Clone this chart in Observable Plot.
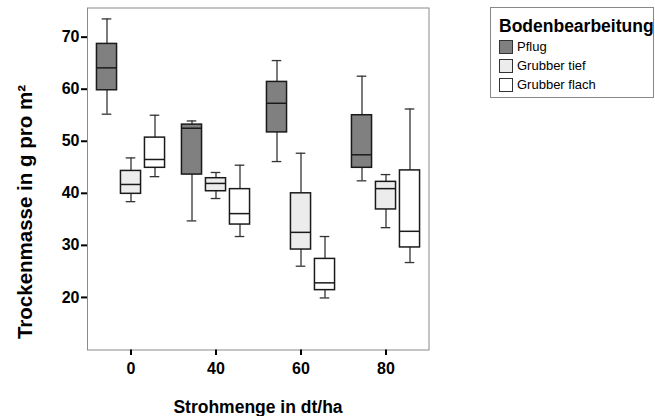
<!DOCTYPE html>
<html>
<head>
<meta charset="utf-8">
<script src="https://cdn.jsdelivr.net/npm/d3@7"></script>
<script src="https://cdn.jsdelivr.net/npm/@observablehq/plot@0.6"></script>
<style>
  html, body { margin: 0; padding: 0; background: #fff; }
  #wrap { position: relative; width: 655px; height: 416px; font-family: "Liberation Sans", Arial, sans-serif; color: #000; }
  #wrap svg { position: absolute; left: 0; top: 0; }
  #ylabel { position: absolute; left: 25px; top: 212px; transform: translate(-50%, -50%) rotate(-90deg); white-space: nowrap; font-weight: bold; font-size: 20.5px; }
  #xlabel { position: absolute; left: 258px; top: 407px; transform: translate(-50%, -50%); white-space: nowrap; font-weight: bold; font-size: 17.5px; }
  #legend { position: absolute; left: 490px; top: 7px; width: 164px; height: 91px; border: 1px solid #888; box-sizing: border-box; }
  #legend .title { position: absolute; left: 8px; top: 10px; font-weight: bold; font-size: 17.5px; line-height: 16px; white-space: nowrap; }
  #legend .item { position: absolute; left: 8px; height: 14px; font-size: 13px; line-height: 14px; white-space: nowrap; }
  #legend .sw { display: inline-block; width: 12px; height: 12px; border: 1px solid #333; vertical-align: top; margin-right: 4px; }
</style>
</head>
<body>
<div id="wrap">
  <div id="ylabel"></div>
  <div id="xlabel"></div>
  <div id="legend"></div>
</div>
<script>
// ---- data ----
const groups = ["0", "40", "60", "80"];            // Strohmenge in dt/ha
const series = ["Pflug", "Grubber tief", "Grubber flach"];
const seriesColors = ["#808080", "#ececec", "#ffffff"];
const yTicks = [20, 30, 40, 50, 60, 70];
// values ordered: group 0 (Pflug, tief, flach), group 40 (...), group 60 (...), group 80 (...)
const whiskerLow  = [55.2, 38.4, 43.2,  34.7, 39.0, 31.7,  46.1, 26.0, 19.9,  42.4, 33.4, 26.7];
const quartile1   = [59.8, 39.9, 44.9,  43.6, 40.4, 34.0,  51.7, 29.2, 21.4,  44.9, 36.9, 29.6];
const median      = [64.1, 41.7, 46.5,  52.5, 41.9, 36.1,  57.3, 32.5, 22.8,  47.4, 40.9, 32.7];
const quartile3   = [68.7, 44.3, 50.7,  53.2, 42.9, 40.8,  61.4, 40.0, 27.4,  55.0, 42.2, 44.4];
const whiskerHigh = [73.5, 46.8, 55.0,  53.9, 44.0, 45.4,  65.5, 47.7, 31.7,  62.5, 43.6, 56.2];
const xTitle = "Strohmenge in dt/ha";
const yTitle = "Trockenmasse in g pro m²";
const legendTitle = "Bodenbearbeitung";

// ---- build table ----
const rows = [];
groups.forEach((g, gi) => series.forEach((s, si) => {
  const i = gi * series.length + si;
  rows.push({g, s, lo: whiskerLow[i], q1: quartile1[i], med: median[i], q3: quartile3[i], hi: whiskerHigh[i]});
}));

const bandInset = 32.45;   // box width inside each band
const capInset = 37.7;     // whisker cap width
const offsets = [-24, 0, 24];

const marks = [];
series.forEach((s, si) => {
  const data = rows.filter(d => d.s === s);
  const dx = offsets[si];
  marks.push(
    Plot.ruleX(data, {x: "g", y1: "lo", y2: "hi", dx, stroke: "#333", strokeWidth: 1.3}),
    Plot.barY(data, {x: "g", y1: "q1", y2: "q3", dx, fill: seriesColors[si], stroke: "#1a1a1a", strokeWidth: 1.5, insetLeft: bandInset, insetRight: bandInset}),
    Plot.tickY(data, {x: "g", y: "med", dx, stroke: "#1a1a1a", strokeWidth: 1.5, insetLeft: bandInset, insetRight: bandInset}),
    Plot.tickY(data, {x: "g", y: "lo", dx, stroke: "#333", strokeWidth: 1.3, insetLeft: capInset, insetRight: capInset}),
    Plot.tickY(data, {x: "g", y: "hi", dx, stroke: "#333", strokeWidth: 1.3, insetLeft: capInset, insetRight: capInset})
  );
});

const chart = Plot.plot({
  width: 655,
  height: 416,
  marginLeft: 87,
  marginTop: 7.5,
  marginRight: 226.5,
  marginBottom: 66.5,
  style: {fontFamily: "'Liberation Sans', Arial, sans-serif", fontSize: "16px", fontWeight: "bold", color: "#000", background: "transparent"},
  x: {type: "band", domain: groups, padding: 0},
  y: {domain: [9.9, 75.6]},
  marks: [
    Plot.frame({stroke: "#8a8a8a", strokeWidth: 1}),
    Plot.axisY(yTicks, {tickSize: 6, tickPadding: 2, strokeWidth: 2, stroke: "#000", fill: "#000", label: null, fontWeight: "bold"}),
    Plot.axisX({tickSize: 5.5, tickPadding: 7, strokeWidth: 2, stroke: "#000", fill: "#000", label: null, fontWeight: "bold"}),
    ...marks
  ]
});
document.getElementById("wrap").prepend(chart);

document.getElementById("ylabel").textContent = yTitle;
document.getElementById("xlabel").textContent = xTitle;

const legend = document.getElementById("legend");
const t = document.createElement("div");
t.className = "title";
t.textContent = legendTitle;
legend.appendChild(t);
series.forEach((s, si) => {
  const it = document.createElement("div");
  it.className = "item";
  it.style.top = (32 + si * 19) + "px";
  const sw = document.createElement("span");
  sw.className = "sw";
  sw.style.background = seriesColors[si];
  it.appendChild(sw);
  it.appendChild(document.createTextNode(s));
  legend.appendChild(it);
});
</script>
</body>
</html>
